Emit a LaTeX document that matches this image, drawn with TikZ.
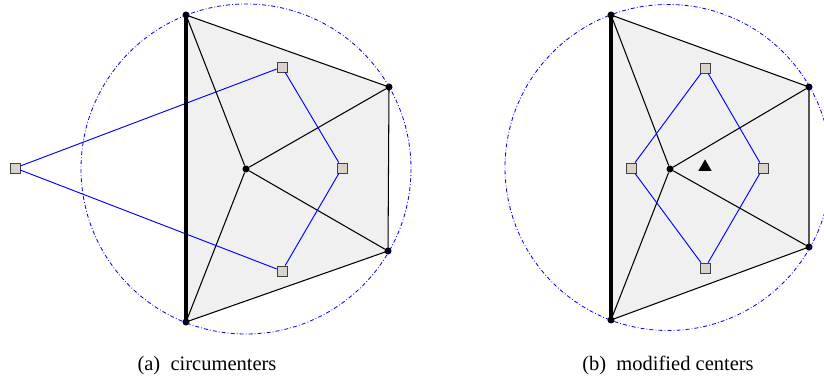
\documentclass[tikz,border=0pt]{standalone}
\usepackage{fontspec}
\setmainfont{Liberation Serif}
\usetikzlibrary{shapes.geometric,backgrounds}
\definecolor{ctrfill}{HTML}{D8D4CC}
\tikzset{
  vtx/.style={circle, fill=black, inner sep=0pt, minimum size=6pt},
  ctr/.style={draw=black!75, fill=ctrfill, line width=0.7pt, inner sep=0pt,
              minimum size=8.5pt},
  tri/.style={regular polygon, regular polygon sides=3, fill=black,
              inner sep=0pt, minimum size=13pt},
  edge/.style={line width=0.9pt},
  wall/.style={line width=3.6pt},
  dual/.style={blue, line width=0.8pt},
  cc/.style={blue, line width=0.7pt, dash pattern=on 3.4pt off 1.8pt on 0.7pt off 1.8pt},
  captxt/.style={font=\fontsize{17.5}{20}\selectfont, anchor=base},
}
\begin{document}
\begin{tikzpicture}[x=0.03cm, y=-0.03cm]
    \useasboundingbox (0,0) rectangle (824,377);
    % (a) circumcenters
    \node[vtx] (a1) at (186,15) {};
    \node[vtx] (b1) at (389,87) {};
    \node[vtx] (c1) at (388,251) {};
    \node[vtx] (d1) at (186,322) {};
    \node[vtx] (o1) at (246,169) {};
    \begin{scope}[on background layer]
      \fill[black!6] (a1.center) -- (b1.center) -- (c1.center) -- (d1.center) -- cycle;
    \end{scope}
    \draw[cc] (o1.center) circle[radius=165];
    \draw[edge] (a1.center) -- (b1.center) -- (c1.center) -- (d1.center);
    \foreach \v in {a1,b1,c1,d1} \draw[edge] (o1) -- (\v);
    \node[ctr] (p1) at (282,67) {};
    \node[ctr] (q1) at (342,168) {};
    \node[ctr] (r1) at (282,271) {};
    \node[ctr] (s1) at (15,168) {};
    \draw[dual] (s1) -- (p1) -- (q1) -- (r1) -- (s1);
    \draw[wall] (a1.center) -- (d1.center);
    \node[captxt] (capa) at (207,370) {(a)\enspace circumenters};

    % (b) modified centers
    \node[vtx] (a2) at (611,15) {};
    \node[vtx] (b2) at (809,87) {};
    \node[vtx] (c2) at (809,247) {};
    \node[vtx] (d2) at (611,320) {};
    \node[vtx] (o2) at (670,169) {};
    \begin{scope}[on background layer]
      \fill[black!6] (a2.center) -- (b2.center) -- (c2.center) -- (d2.center) -- cycle;
    \end{scope}
    \draw[cc] (668,167.5) circle[radius=163];
    \draw[edge] (a2.center) -- (b2.center) -- (c2.center) -- (d2.center);
    \foreach \v in {a2,b2,c2,d2} \draw[edge] (o2) -- (\v);
    \node[ctr] (p2) at (705,68) {};
    \node[ctr] (q2) at (763,168) {};
    \node[ctr] (r2) at (705,268) {};
    \node[ctr] (s2) at (631,168) {};
    \draw[dual] (s2) -- (p2) -- (q2) -- (r2) -- (s2);
    \node[tri] (m2) at (705,167) {};
    \draw[wall] (a2.center) -- (d2.center);
    \node[captxt] (capb) at (668,370) {(b)\enspace modified centers};
  \end{tikzpicture}
\end{document}
